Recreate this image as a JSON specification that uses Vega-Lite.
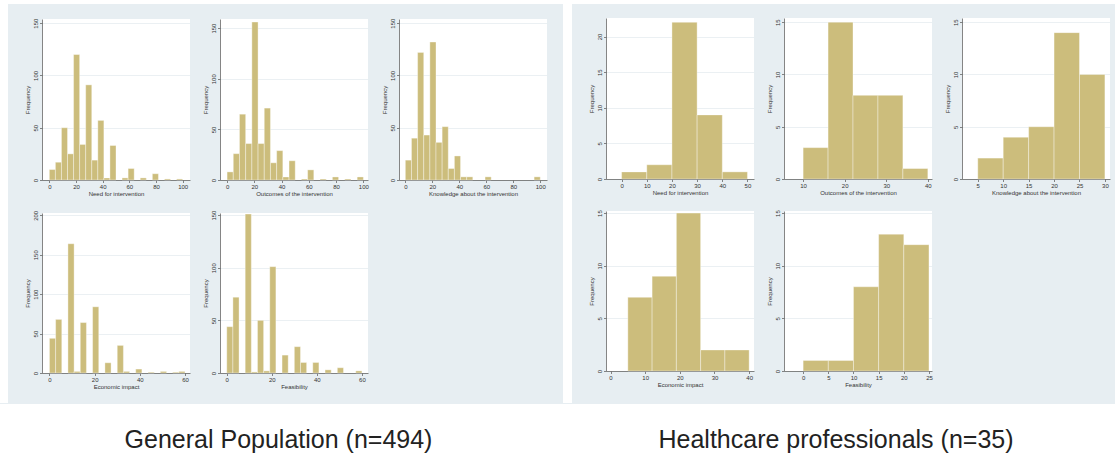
{
  "$schema": "https://vega.github.io/schema/vega-lite/v6.json",
  "background": "#e7eef2",
  "padding": 0,
  "spacing": 0,
  "config": {
    "view": {"stroke": null, "fill": "white"},
    "axis": {"labelFont": "Liberation Sans", "titleFont": "Liberation Sans", "labelFontSize": 6, "titleFontSize": 6, "titleFontWeight": "normal", "labelColor": "#333333", "titleColor": "#333333", "domainColor": "#666666", "tickColor": "#666666", "domainWidth": 0.8, "tickWidth": 0.8, "tickSize": 2.5, "labelPadding": 1, "titlePadding": 1, "grid": false, "labelFlush": false, "labelOverlap": false},
    "axisY": {"labelAngle": 270, "labelAlign": "center", "labelBaseline": "bottom", "grid": true, "gridColor": "#e6ecf0", "gridWidth": 0.8, "titlePadding": 2},
    "bar": {"fill": "#ccbd7c", "stroke": "#ffffff", "strokeWidth": 0.6, "strokeOpacity": 0.6}
  },
  "datasets": {
    "gp_need": [
      {"b0": 0, "b1": 4.545, "n": 10}, {"b0": 4.545, "b1": 9.091, "n": 17}, {"b0": 9.091, "b1": 13.636, "n": 50}, {"b0": 13.636, "b1": 18.182, "n": 25},
      {"b0": 18.182, "b1": 22.727, "n": 120}, {"b0": 22.727, "b1": 27.273, "n": 34}, {"b0": 27.273, "b1": 31.818, "n": 91}, {"b0": 31.818, "b1": 36.364, "n": 19},
      {"b0": 36.364, "b1": 40.909, "n": 57}, {"b0": 40.909, "b1": 45.455, "n": 2}, {"b0": 45.455, "b1": 50, "n": 33}, {"b0": 54.545, "b1": 59.091, "n": 2},
      {"b0": 59.091, "b1": 63.636, "n": 11}, {"b0": 68.182, "b1": 72.727, "n": 2}, {"b0": 77.273, "b1": 81.818, "n": 6}, {"b0": 86.364, "b1": 90.909, "n": 1},
      {"b0": 95.455, "b1": 100, "n": 1}
    ],
    "gp_out": [
      {"b0": 0, "b1": 4.545, "n": 8}, {"b0": 4.545, "b1": 9.091, "n": 26}, {"b0": 9.091, "b1": 13.636, "n": 65}, {"b0": 13.636, "b1": 18.182, "n": 36},
      {"b0": 18.182, "b1": 22.727, "n": 156}, {"b0": 22.727, "b1": 27.273, "n": 36}, {"b0": 27.273, "b1": 31.818, "n": 71}, {"b0": 31.818, "b1": 36.364, "n": 17},
      {"b0": 36.364, "b1": 40.909, "n": 29}, {"b0": 40.909, "b1": 45.455, "n": 3}, {"b0": 45.455, "b1": 50, "n": 19}, {"b0": 54.545, "b1": 59.091, "n": 1},
      {"b0": 59.091, "b1": 63.636, "n": 10}, {"b0": 68.182, "b1": 72.727, "n": 1}, {"b0": 77.273, "b1": 81.818, "n": 3}, {"b0": 86.364, "b1": 90.909, "n": 1},
      {"b0": 95.455, "b1": 100, "n": 3}
    ],
    "gp_know": [
      {"b0": 0, "b1": 4.545, "n": 19}, {"b0": 4.545, "b1": 9.091, "n": 40}, {"b0": 9.091, "b1": 13.636, "n": 122}, {"b0": 13.636, "b1": 18.182, "n": 43},
      {"b0": 18.182, "b1": 22.727, "n": 132}, {"b0": 22.727, "b1": 27.273, "n": 36}, {"b0": 27.273, "b1": 31.818, "n": 51}, {"b0": 31.818, "b1": 36.364, "n": 11},
      {"b0": 36.364, "b1": 40.909, "n": 23}, {"b0": 40.909, "b1": 45.455, "n": 3}, {"b0": 45.455, "b1": 50, "n": 3}, {"b0": 59.091, "b1": 63.636, "n": 3},
      {"b0": 95.455, "b1": 100, "n": 3}
    ],
    "gp_econ": [
      {"b0": 0, "b1": 2.727, "n": 44}, {"b0": 2.727, "b1": 5.455, "n": 68}, {"b0": 8.182, "b1": 10.909, "n": 164}, {"b0": 10.909, "b1": 13.636, "n": 2},
      {"b0": 13.636, "b1": 16.364, "n": 64}, {"b0": 19.091, "b1": 21.818, "n": 84}, {"b0": 24.545, "b1": 27.273, "n": 13}, {"b0": 30, "b1": 32.727, "n": 35},
      {"b0": 32.727, "b1": 35.455, "n": 2}, {"b0": 38.182, "b1": 40.909, "n": 5}, {"b0": 43.636, "b1": 46.364, "n": 1}, {"b0": 49.091, "b1": 51.818, "n": 2},
      {"b0": 54.545, "b1": 57.273, "n": 1}, {"b0": 57.273, "b1": 60, "n": 2}
    ],
    "gp_feas": [
      {"b0": 0, "b1": 2.727, "n": 44}, {"b0": 2.727, "b1": 5.455, "n": 72}, {"b0": 8.182, "b1": 10.909, "n": 151}, {"b0": 10.909, "b1": 13.636, "n": 1},
      {"b0": 13.636, "b1": 16.364, "n": 50}, {"b0": 16.364, "b1": 19.091, "n": 2}, {"b0": 19.091, "b1": 21.818, "n": 101}, {"b0": 24.545, "b1": 27.273, "n": 17},
      {"b0": 30, "b1": 32.727, "n": 25}, {"b0": 32.727, "b1": 35.455, "n": 10}, {"b0": 38.182, "b1": 40.909, "n": 10}, {"b0": 43.636, "b1": 46.364, "n": 3},
      {"b0": 49.091, "b1": 51.818, "n": 5}, {"b0": 57.273, "b1": 60, "n": 2}
    ],
    "hp_need": [{"b0": 0, "b1": 10, "n": 1}, {"b0": 10, "b1": 20, "n": 2}, {"b0": 20, "b1": 30, "n": 22}, {"b0": 30, "b1": 40, "n": 9}, {"b0": 40, "b1": 50, "n": 1}],
    "hp_out": [{"b0": 10, "b1": 16, "n": 3}, {"b0": 16, "b1": 22, "n": 15}, {"b0": 22, "b1": 28, "n": 8}, {"b0": 28, "b1": 34, "n": 8}, {"b0": 34, "b1": 40, "n": 1}],
    "hp_know": [{"b0": 5, "b1": 10, "n": 2}, {"b0": 10, "b1": 15, "n": 4}, {"b0": 15, "b1": 20, "n": 5}, {"b0": 20, "b1": 25, "n": 14}, {"b0": 25, "b1": 30, "n": 10}],
    "hp_econ": [{"b0": 5, "b1": 12, "n": 7}, {"b0": 12, "b1": 19, "n": 9}, {"b0": 19, "b1": 26, "n": 15}, {"b0": 26, "b1": 33, "n": 2}, {"b0": 33, "b1": 40, "n": 2}],
    "hp_feas": [{"b0": 0, "b1": 5, "n": 1}, {"b0": 5, "b1": 10, "n": 1}, {"b0": 10, "b1": 15, "n": 8}, {"b0": 15, "b1": 20, "n": 13}, {"b0": 20, "b1": 25, "n": 12}],
    "blank": [],
    "cap_gp": [{"t": "General Population (n=494)"}],
    "cap_hp": [{"t": "Healthcare professionals (n=35)"}]
  },
  "vconcat": [
    {"width": 1115, "height": 4, "data": {"name": "blank"}, "mark": "point", "encoding": {}, "view": {"fill": "white", "stroke": null}},
    {
      "spacing": 16,
      "hconcat": [
        {"width": 8, "height": 399, "data": {"name": "blank"}, "mark": "point", "encoding": {}, "view": {"fill": "white", "stroke": null}},
        {
          "spacing": 13,
          "vconcat": [
            {"width": 10, "height": 1, "data": {"name": "blank"}, "mark": "point", "encoding": {}, "view": {"fill": "transparent", "stroke": null}},
            {
              "spacing": 12,
              "hconcat": [
                {"width": 148, "height": 161, "data": {"name": "gp_need"}, "mark": "bar",
                 "encoding": {"x": {"field": "b0", "type": "quantitative", "scale": {"domain": [-5.5, 105.5], "nice": false, "zero": false}, "axis": {"values": [0, 20, 40, 60, 80, 100], "title": "Need for intervention"}},
                              "x2": {"field": "b1"},
                              "y": {"field": "n", "type": "quantitative", "scale": {"domain": [0, 154], "nice": false}, "axis": {"values": [0, 50, 100, 150], "title": "Frequency"}},
                              "y2": {"datum": 0}}},
                {"width": 148, "height": 161, "data": {"name": "gp_out"}, "mark": "bar",
                 "encoding": {"x": {"field": "b0", "type": "quantitative", "scale": {"domain": [-5.2, 103.4], "nice": false, "zero": false}, "axis": {"values": [0, 20, 40, 60, 80, 100], "title": "Outcomes of the intervention"}},
                              "x2": {"field": "b1"},
                              "y": {"field": "n", "type": "quantitative", "scale": {"domain": [0, 159], "nice": false}, "axis": {"values": [0, 50, 100, 150], "title": "Frequency"}},
                              "y2": {"datum": 0}}},
                {"width": 148, "height": 161, "data": {"name": "gp_know"}, "mark": "bar",
                 "encoding": {"x": {"field": "b0", "type": "quantitative", "scale": {"domain": [-4.7, 105], "nice": false, "zero": false}, "axis": {"values": [0, 20, 40, 60, 80, 100], "title": "Knowledge about the intervention"}},
                              "x2": {"field": "b1"},
                              "y": {"field": "n", "type": "quantitative", "scale": {"domain": [0, 154], "nice": false}, "axis": {"values": [0, 50, 100, 150], "title": "Frequency"}},
                              "y2": {"datum": 0}}}
              ]
            },
            {
              "spacing": 12,
              "hconcat": [
                {"width": 148, "height": 160, "data": {"name": "gp_econ"}, "mark": "bar",
                 "encoding": {"x": {"field": "b0", "type": "quantitative", "scale": {"domain": [-3.3, 62.2], "nice": false, "zero": false}, "axis": {"values": [0, 20, 40, 60], "title": "Economic impact"}},
                              "x2": {"field": "b1"},
                              "y": {"field": "n", "type": "quantitative", "scale": {"domain": [0, 203], "nice": false}, "axis": {"values": [0, 50, 100, 150, 200], "title": "Frequency"}},
                              "y2": {"datum": 0}}},
                {"width": 148, "height": 160, "data": {"name": "gp_feas"}, "mark": "bar",
                 "encoding": {"x": {"field": "b0", "type": "quantitative", "scale": {"domain": [-3, 62.7], "nice": false, "zero": false}, "axis": {"values": [0, 20, 40, 60], "title": "Feasibility"}},
                              "x2": {"field": "b1"},
                              "y": {"field": "n", "type": "quantitative", "scale": {"domain": [0, 152], "nice": false}, "axis": {"values": [0, 50, 100, 150], "title": "Frequency"}},
                              "y2": {"datum": 0}}}
              ]
            },
            {"width": 10, "height": 1, "data": {"name": "blank"}, "mark": "point", "encoding": {}, "view": {"fill": "transparent", "stroke": null}}
          ]
        },
        {"width": 9, "height": 399, "data": {"name": "blank"}, "mark": "point", "encoding": {}, "view": {"fill": "white", "stroke": null}},
        {
          "spacing": 13,
          "vconcat": [
            {"width": 10, "height": 1, "data": {"name": "blank"}, "mark": "point", "encoding": {}, "view": {"fill": "transparent", "stroke": null}},
            {
              "spacing": 12,
              "hconcat": [
                {"width": 148, "height": 161, "data": {"name": "hp_need"}, "mark": "bar",
                 "encoding": {"x": {"field": "b0", "type": "quantitative", "scale": {"domain": [-6.2, 52.6], "nice": false, "zero": false}, "axis": {"values": [0, 10, 20, 30, 40, 50], "title": "Need for intervention"}},
                              "x2": {"field": "b1"},
                              "y": {"field": "n", "type": "quantitative", "scale": {"domain": [0, 22.6], "nice": false}, "axis": {"values": [0, 5, 10, 15, 20], "title": "Frequency"}},
                              "y2": {"datum": 0}}},
                {"width": 148, "height": 161, "data": {"name": "hp_out"}, "mark": "bar",
                 "encoding": {"x": {"field": "b0", "type": "quantitative", "scale": {"domain": [5.4, 41], "nice": false, "zero": false}, "axis": {"values": [10, 20, 30, 40], "title": "Outcomes of the intervention"}},
                              "x2": {"field": "b1"},
                              "y": {"field": "n", "type": "quantitative", "scale": {"domain": [0, 15.4], "nice": false}, "axis": {"values": [0, 5, 10, 15], "title": "Frequency"}},
                              "y2": {"datum": 0}}},
                {"width": 148, "height": 161, "data": {"name": "hp_know"}, "mark": "bar",
                 "encoding": {"x": {"field": "b0", "type": "quantitative", "scale": {"domain": [1.9, 31], "nice": false, "zero": false}, "axis": {"values": [5, 10, 15, 20, 25, 30], "title": "Knowledge about the intervention"}},
                              "x2": {"field": "b1"},
                              "y": {"field": "n", "type": "quantitative", "scale": {"domain": [0, 15.4], "nice": false}, "axis": {"values": [0, 5, 10, 15], "title": "Frequency"}},
                              "y2": {"datum": 0}}}
              ]
            },
            {
              "spacing": 12,
              "hconcat": [
                {"width": 148, "height": 160, "data": {"name": "hp_econ"}, "mark": "bar",
                 "encoding": {"x": {"field": "b0", "type": "quantitative", "scale": {"domain": [-1.3, 41.4], "nice": false, "zero": false}, "axis": {"values": [0, 10, 20, 30, 40], "title": "Economic impact"}},
                              "x2": {"field": "b1"},
                              "y": {"field": "n", "type": "quantitative", "scale": {"domain": [0, 15.2], "nice": false}, "axis": {"values": [0, 5, 10, 15], "title": "Frequency"}},
                              "y2": {"datum": 0}}},
                {"width": 148, "height": 160, "data": {"name": "hp_feas"}, "mark": "bar",
                 "encoding": {"x": {"field": "b0", "type": "quantitative", "scale": {"domain": [-3.8, 25.6], "nice": false, "zero": false}, "axis": {"values": [0, 5, 10, 15, 20, 25], "title": "Feasibility"}},
                              "x2": {"field": "b1"},
                              "y": {"field": "n", "type": "quantitative", "scale": {"domain": [0, 15.2], "nice": false}, "axis": {"values": [0, 5, 10, 15], "title": "Frequency"}},
                              "y2": {"datum": 0}}}
              ]
            },
            {"width": 10, "height": 1, "data": {"name": "blank"}, "mark": "point", "encoding": {}, "view": {"fill": "transparent", "stroke": null}}
          ]
        }
      ]
    },
    {
      "spacing": 0,
      "hconcat": [
        {"width": 557, "height": 58, "data": {"name": "cap_gp"}, "mark": {"type": "text", "font": "Liberation Sans", "fontSize": 25, "color": "#222222", "align": "center", "baseline": "alphabetic", "dy": 15}, "encoding": {"text": {"field": "t"}}, "view": {"fill": "white", "stroke": null}},
        {"width": 558, "height": 58, "data": {"name": "cap_hp"}, "mark": {"type": "text", "font": "Liberation Sans", "fontSize": 25, "color": "#222222", "align": "center", "baseline": "alphabetic", "dy": 15}, "encoding": {"text": {"field": "t"}}, "view": {"fill": "white", "stroke": null}}
      ]
    }
  ]
}
